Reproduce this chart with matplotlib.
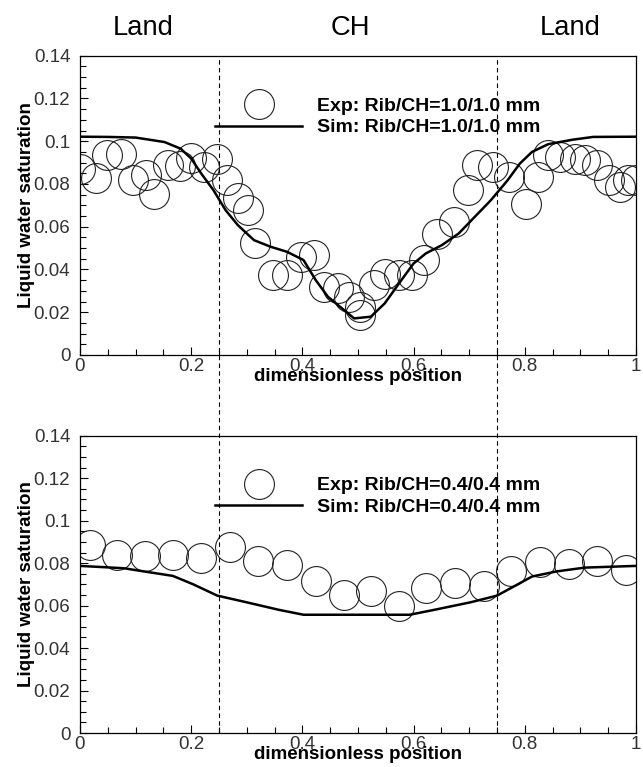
import matplotlib
matplotlib.use('Agg')
import matplotlib.pyplot as plt
import matplotlib.transforms as mtransforms
from matplotlib.lines import Line2D
from matplotlib.ticker import MultipleLocator, FuncFormatter

plt.rcParams['font.family'] = ['Liberation Sans', 'DejaVu Sans']

# region labels above the chart
regions = ['Land', 'CH', 'Land']
region_x = [0.114, 0.486, 0.882]
boundaries = [0.25, 0.75]

# upper panel: Rib/CH = 1.0/1.0 mm
exp1_x = [0.0, 0.029, 0.049, 0.073, 0.095, 0.119, 0.134, 0.158, 0.179, 0.200,
          0.223, 0.246, 0.264, 0.284, 0.302, 0.315, 0.347, 0.372, 0.398, 0.421,
          0.438, 0.464, 0.484, 0.504, 0.504, 0.528, 0.548, 0.574, 0.598, 0.618,
          0.642, 0.673, 0.697, 0.714, 0.743, 0.772, 0.802, 0.824, 0.842, 0.864,
          0.890, 0.908, 0.930, 0.952, 0.971, 0.985, 1.0]
exp1_y = [0.0872, 0.0828, 0.0934, 0.0942, 0.0820, 0.0841, 0.0752, 0.0888, 0.0883, 0.0923,
          0.0880, 0.0919, 0.0820, 0.0732, 0.0677, 0.0525, 0.0374, 0.0374, 0.0459, 0.0467,
          0.0316, 0.0311, 0.0272, 0.0226, 0.0187, 0.0327, 0.0381, 0.0374, 0.0374, 0.0444,
          0.0568, 0.0623, 0.0771, 0.0888, 0.0880, 0.0833, 0.0708, 0.0833, 0.0934, 0.0926,
          0.0919, 0.0914, 0.0888, 0.0817, 0.0786, 0.0817, 0.0817]
sim1_x = [0.0, 0.05, 0.10, 0.152, 0.181, 0.200, 0.218, 0.240, 0.262, 0.284,
          0.313, 0.343, 0.372, 0.402, 0.424, 0.446, 0.475, 0.493, 0.523, 0.548,
          0.578, 0.600, 0.622, 0.651, 0.681, 0.710, 0.739, 0.769, 0.791, 0.813,
          0.842, 0.886, 0.923, 1.0]
sim1_y = [0.1021, 0.1020, 0.1017, 0.0996, 0.0965, 0.0919, 0.0849, 0.0771, 0.0677, 0.0607,
          0.0537, 0.0506, 0.0483, 0.0444, 0.0350, 0.0272, 0.0210, 0.0171, 0.0179, 0.0241,
          0.0350, 0.0428, 0.0475, 0.0514, 0.0568, 0.0646, 0.0724, 0.0817, 0.0895, 0.0950,
          0.0986, 0.1007, 0.1020, 0.1021]

# lower panel: Rib/CH = 0.4/0.4 mm
exp2_x = [0.018, 0.066, 0.117, 0.168, 0.218, 0.269, 0.321, 0.372, 0.424, 0.474,
          0.523, 0.574, 0.623, 0.675, 0.726, 0.776, 0.827, 0.879, 0.930, 0.982]
exp2_y = [0.0886, 0.0839, 0.0834, 0.0839, 0.0826, 0.0878, 0.0811, 0.0792, 0.0717, 0.0652,
          0.0670, 0.0597, 0.0683, 0.0705, 0.0694, 0.0764, 0.0806, 0.0795, 0.0808, 0.0767]
sim2_x = [0.0, 0.079, 0.115, 0.167, 0.203, 0.247, 0.299, 0.358, 0.402, 0.500,
          0.593, 0.637, 0.703, 0.750, 0.783, 0.813, 0.857, 0.908, 1.0]
sim2_y = [0.0787, 0.0776, 0.0761, 0.0740, 0.0701, 0.0647, 0.0616, 0.0580, 0.0557, 0.0557,
          0.0557, 0.0580, 0.0616, 0.0647, 0.0694, 0.0737, 0.0761, 0.0779, 0.0787]

labels1 = ['Exp: Rib/CH=1.0/1.0 mm', 'Sim: Rib/CH=1.0/1.0 mm']
labels2 = ['Exp: Rib/CH=0.4/0.4 mm', 'Sim: Rib/CH=0.4/0.4 mm']


def style_axes(ax):
    ax.set_xlim(0, 1)
    ax.set_ylim(0, 0.14)
    ax.xaxis.set_major_locator(MultipleLocator(0.2))
    ax.xaxis.set_minor_locator(MultipleLocator(0.05))
    ax.yaxis.set_major_locator(MultipleLocator(0.02))
    ax.yaxis.set_minor_locator(MultipleLocator(0.005))
    fmt = FuncFormatter(lambda v, p: '%g' % round(v, 3))
    ax.xaxis.set_major_formatter(fmt)
    ax.yaxis.set_major_formatter(fmt)
    ax.tick_params(which='both', direction='in', top=False, right=False,
                   width=0.8, colors='black', labelcolor='#333333', labelsize=13.5)
    ax.tick_params(which='major', length=6)
    ax.tick_params(which='minor', length=4)
    ax.tick_params(axis='y', which='major', pad=7)
    ax.tick_params(axis='x', which='major', pad=2)
    for s in ax.spines.values():
        s.set_linewidth(0.9)
    ax.set_xlabel('dimensionless position', fontsize=13.5, fontweight='bold', labelpad=-5)
    ax.set_ylabel('Liquid water saturation', fontsize=13.5, fontweight='bold')
    ax.yaxis.set_label_coords(-0.081, 0.5)


def draw(ax, ex, ey, sx, sy, labels):
    h1, = ax.plot(ex, ey, 'o', ms=21.5, mfc='none', mec='#222222', mew=0.8)
    h2, = ax.plot(sx, sy, '-', color='black', lw=1.8)
    ax.legend([h1, h2], labels, loc='upper left', bbox_to_anchor=(0.243, 0.862),
              frameon=False, borderpad=0, borderaxespad=0, handlelength=4.47,
              handletextpad=0.77, labelspacing=0.22,
              prop={'size': 14, 'weight': 'bold'})
    style_axes(ax)


fig = plt.figure(figsize=(6.43, 7.67), dpi=100)
ax1 = fig.add_axes([0.1244, 0.5372, 0.8647, 0.3902])
ax2 = fig.add_axes([0.1244, 0.0443, 0.8647, 0.3876])

draw(ax1, exp1_x, exp1_y, sim1_x, sim1_y, labels1)
draw(ax2, exp2_x, exp2_y, sim2_x, sim2_y, labels2)

# dashed land/channel boundaries running through both panels
trans = mtransforms.blended_transform_factory(ax1.transData, fig.transFigure)
for b in boundaries:
    fig.add_artist(Line2D([b, b], [0.0443, 0.9274], transform=trans,
                          color='black', lw=0.8, ls=(0, (4, 3))))

for name, xr in zip(regions, region_x):
    fig.text(xr, 0.9544, name, transform=trans, ha='center', va='baseline', fontsize=19.7)

fig.savefig('out.png', dpi=100)
